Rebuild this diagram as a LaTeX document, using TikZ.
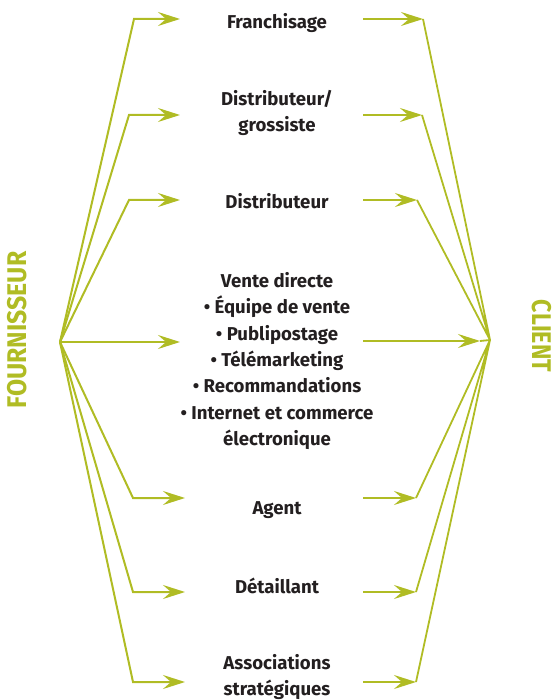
\documentclass[tikz,border=0pt]{standalone}
\usepackage{fontspec}
\setmainfont{Fira Sans}
\newfontfamily\wideface{Fira Sans}[FakeStretch=0.92]
\newfontfamily\narrowface{Fira Sans}[FakeStretch=0.86]
\usetikzlibrary{arrows.meta,positioning}
\definecolor{leaf}{RGB}{176,188,36}
\definecolor{ink}{RGB}{35,31,32}
\tikzset{
    channel/.style={align=center, text=ink, inner sep=0pt,
        font=\bfseries\fontsize{18.6}{26.3}\selectfont},
    party/.style={text=leaf, inner sep=0pt},
    arrow/.style={-{Stealth[length=22pt, width=14pt, inset=8pt]}, leaf, line width=2pt},
    link/.style={leaf, line width=1.8pt}
}

\begin{document}
\begin{tikzpicture}[x=1pt, y=-1pt]
    \useasboundingbox (0,0) rectangle (554,700);
    % the two parties
    \node[party, rotate=90, font=\wideface\bfseries\fontsize{27}{30}\selectfont]
        (four) at (17.5,330) {FOURNISSEUR};
    \node[party, rotate=-90, font=\narrowface\bfseries\fontsize{27}{30}\selectfont]
        (client) at (542,336) {CLIENT};
    \coordinate (hubL) at (60,342);
    \coordinate (hubR) at (490,340);

    % channels
    \node[channel] (franch) at (277,23) {Franchisage};
    \node[channel] (gross) at (277,113) {Distributeur/\\grossiste};
    \node[channel] (distrib) at (277,201.5) {Distributeur};
    \node[channel] (vente) at (277,361) {Vente directe\\
        • Équipe de vente\\• Publipostage\\• Télémarketing\\
        • Recommandations\\• Internet et commerce\\électronique};
    \node[channel] (agent) at (277,510) {Agent};
    \node[channel] (detail) at (277,586) {Détaillant};
    \node[channel] (assoc) at (277,677) {Associations\\stratégiques};

    % bends and arrow ends, left side
    \coordinate (b1) at (134,19);   \coordinate (t1) at (180,19);
    \coordinate (b2) at (129,115);  \coordinate (t2) at (180,115);
    \coordinate (b3) at (129,200);  \coordinate (t3) at (180,200);
    \coordinate (t4) at (180,342);
    \coordinate (b5) at (133,498);  \coordinate (t5) at (185,498);
    \coordinate (b6) at (133,592);  \coordinate (t6) at (185,592);
    \coordinate (b7) at (133,682);  \coordinate (t7) at (185,682);
    % right side
    \coordinate (s1) at (363,19);   \coordinate (e1) at (423,19);
    \coordinate (s2) at (363,115);  \coordinate (e2) at (422,115);
    \coordinate (s3) at (363,200);  \coordinate (e3) at (417,200);
    \coordinate (s4) at (363,341);  \coordinate (e4) at (480,341);
    \coordinate (s5) at (363,498);  \coordinate (e5) at (416,498);
    \coordinate (s6) at (363,592);  \coordinate (e6) at (416,592);
    \coordinate (s7) at (363,682);  \coordinate (e7) at (416,682);

    \draw[arrow] (hubL) -- (b1) -- (t1);
    \draw[arrow] (hubL) -- (b2) -- (t2);
    \draw[arrow] (hubL) -- (b3) -- (t3);
    \draw[arrow] (hubL) -- (t4);
    \draw[arrow] (hubL) -- (b5) -- (t5);
    \draw[arrow] (hubL) -- (b6) -- (t6);
    \draw[arrow] (hubL) -- (b7) -- (t7);

    \draw[arrow] (s1) -- (e1);
    \draw[arrow] (s2) -- (e2);
    \draw[arrow] (s3) -- (e3);
    \draw[arrow] (s4) -- (e4);
    \draw[arrow] (s5) -- (e5);
    \draw[arrow] (s6) -- (e6);
    \draw[arrow] (s7) -- (e7);
    \draw[link] (e1) -- (hubR) (e2) -- (hubR) (e3) -- (hubR)
        (e5) -- (hubR) (e6) -- (hubR) (e7) -- (hubR) (e4) -- (hubR);
\end{tikzpicture}
\end{document}
